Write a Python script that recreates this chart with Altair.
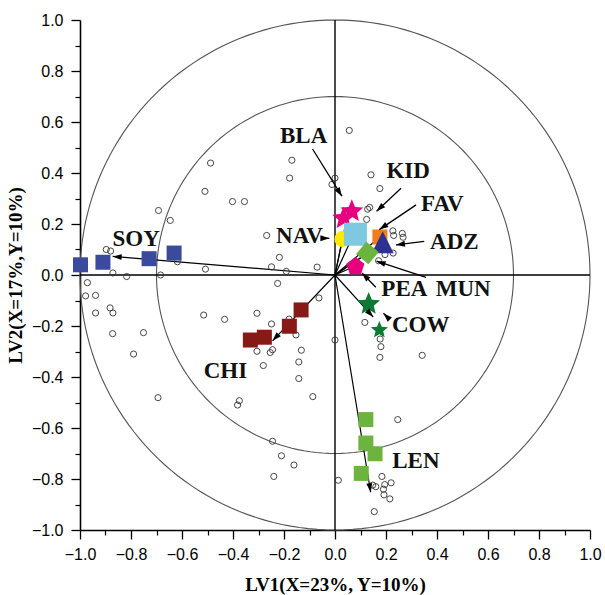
import math
import altair as alt
import pandas as pd

# ---------------- data ----------------
# X-variable loadings (open circles)
var_x = [-0.488, -0.510, -0.402, -0.355, -0.169, -0.178, -0.268, -0.218, -0.249, -0.191,
         -0.070, -0.692, -0.646, -0.897, -0.880, -0.871, -0.817, -0.684, -0.618, -0.508,
         -0.012, 0.000,
         -0.225, -0.971, -0.978, -0.939, -0.882, -0.871, -0.939, -0.872, -0.751, -0.790,
         -0.694, -0.515, -0.433, -0.306, -0.249, -0.180, -0.153, -0.306, -0.245, -0.254,
         -0.132, -0.142, -0.281, -0.142, -0.087, -0.375, -0.382, -0.245, -0.210, -0.161,
         -0.240, -0.063,
         0.000, 0.117, 0.177, 0.180, 0.176, 0.342, 0.246, 0.013, 0.184, 0.220,
         0.195, 0.160, 0.148, 0.190, 0.192, 0.215, 0.154,
         0.056, 0.141, 0.176, 0.136, 0.128, 0.124, 0.227, 0.264, 0.267, 0.230,
         0.228, 0.196, 0.171]
var_y = [0.439, 0.328, 0.288, 0.288, 0.450, 0.380, 0.155, 0.069, 0.032, 0.014,
         0.031, 0.253, 0.214, 0.100, 0.094, 0.008, -0.006, 0.000, 0.052, 0.023,
         0.355, 0.380,
         -0.033, -0.030, -0.082, -0.080, -0.129, -0.149, -0.149, -0.230, -0.226, -0.310,
         -0.481, -0.157, -0.174, -0.150, -0.192, -0.173, -0.235, -0.299, -0.293, -0.304,
         -0.295, -0.341, -0.355, -0.406, -0.477, -0.493, -0.510, -0.652, -0.709, -0.745,
         -0.790, -0.090,
         -0.255, -0.186, -0.251, -0.281, -0.323, -0.315, -0.567, -0.805, -0.790, -0.815,
         -0.822, -0.830, -0.824, -0.840, -0.862, -0.878, -0.928,
         0.567, 0.393, 0.339, 0.265, 0.258, 0.218, 0.173, 0.163, 0.148, 0.155,
         0.086, 0.080, 0.056]

# sample markers per group
soy_x = [-0.998, -0.910, -0.729, -0.631]
soy_y = [0.040, 0.050, 0.064, 0.086]
chi_x = [-0.133, -0.179, -0.277, -0.332]
chi_y = [-0.137, -0.201, -0.244, -0.255]
len_x = [0.121, 0.121, 0.157, 0.103]
len_y = [-0.567, -0.659, -0.701, -0.778]
cow_x = [0.132, 0.174]
cow_y = [-0.114, -0.216]
bla_x = [0.066, 0.034]
bla_y = [0.250, 0.222]
nav_x = [0.029]
nav_y = [0.141]
kid_x = [0.080]
kid_y = [0.160]
fav_x = [0.176]
fav_y = [0.149]
adz_x = [0.187]
adz_y = [0.128]
mun_x = [0.127]
mun_y = [0.086]
pea_x = [0.080]
pea_y = [0.033]

# Y-variable vectors from the origin
vec_names = ["SOY", "CHI", "LEN", "COW", "NAV", "KID", "BLA", "FAV", "ADZ", "MUN", "PEA"]
vec_x = [-0.872, -0.245, 0.140, 0.150, 0.029, 0.075, 0.050, 0.176, 0.187, 0.127, 0.080]
vec_y = [0.073, -0.258, -0.852, -0.165, 0.141, 0.165, 0.240, 0.149, 0.125, 0.086, 0.035]
vec_head = [True, True, True, True, False, False, False, False, False, False, False]

# annotation arrows (label -> marker)
ann_x0 = [-0.088, 0.259, 0.318, 0.350, 0.357, 0.160, -0.050, 0.213]
ann_y0 = [0.494, 0.340, 0.275, 0.132, -0.009, -0.048, 0.144, -0.173]
ann_x1 = [0.027, 0.163, 0.174, 0.239, 0.163, 0.106, -0.022, 0.190]
ann_y1 = [0.309, 0.250, 0.178, 0.118, 0.054, 0.008, 0.144, -0.150]

# labels
lab_text = ["SOY", "CHI", "LEN", "COW", "PEA", "MUN", "ADZ", "FAV", "KID", "BLA", "NAV"]
lab_x = [-0.780, -0.430, 0.317, 0.336, 0.272, 0.503, 0.468, 0.421, 0.287, -0.123, -0.139]
lab_y = [0.143, -0.375, -0.731, -0.197, -0.056, -0.056, 0.131, 0.278, 0.406, 0.546, 0.154]

circle_radii = [1.0, 0.7]
major_ticks = [-1.0, -0.8, -0.6, -0.4, -0.2, 0.0, 0.2, 0.4, 0.6, 0.8, 1.0]
minor_ticks = [-0.9, -0.7, -0.5, -0.3, -0.1, 0.1, 0.3, 0.5, 0.7, 0.9]

# ---------------- styles ----------------
SANS = "Liberation Sans"
SERIF = "Liberation Serif"


def star_path(inner=0.45):
    pts = []
    for i in range(10):
        a = math.radians(-90 + 36 * i)
        r = 1.0 if i % 2 == 0 else inner
        pts.append(f"{r * math.cos(a):.3f},{r * math.sin(a):.3f}")
    return "M" + "L".join(pts) + "Z"


def poly_path(n):
    pts = []
    for i in range(n):
        a = math.radians(-90 + 360 / n * i)
        pts.append(f"{math.cos(a):.3f},{math.sin(a):.3f}")
    return "M" + "L".join(pts) + "Z"


STAR = star_path()
PENT = poly_path(5)
TRI = "M0,-1L1,1L-1,1Z"
HEAD = "M0,0L-0.33,1L0.33,1Z"

XS = alt.Scale(domain=[-1, 1], nice=False, zero=False)
YS = alt.Scale(domain=[-1, 1], nice=False, zero=False)

axis_common = dict(
    grid=False, domainColor="black", tickColor="black", labelColor="black",
    titleColor="black", labelFont=SANS, labelFontSize=16, titleFont=SERIF,
    titleFontSize=19, titleFontWeight="bold", labelFlush=False, labelOverlap=False,
)
x_major = alt.Axis(values=major_ticks, format=".1f", orient="bottom", tickSize=9,
                   tickWidth=1.3, domainWidth=1.6, labelPadding=7,
                   title="LV1(X=23%, Y=10%)", titlePadding=13, **axis_common)
y_major = alt.Axis(values=major_ticks, format=".1f", orient="left", tickSize=9,
                   tickWidth=1.3, domainWidth=1.6, labelPadding=8,
                   title="LV2(X=17%,Y=10%)", titlePadding=6, **axis_common)
x_minor = alt.Axis(values=minor_ticks, orient="bottom", tickSize=5, tickWidth=1.2,
                   labels=False, domain=False, title=None, grid=False, tickColor="black")
y_minor = alt.Axis(values=minor_ticks, orient="left", tickSize=5, tickWidth=1.2,
                   labels=False, domain=False, title=None, grid=False, tickColor="black")

# ---------------- layers ----------------
def circle_layer(r, xa, ya):
    return alt.Chart(alt.sequence(0, 362, 2, as_="deg")).transform_calculate(
        cx=f"{r}*cos(datum.deg*PI/180)", cy=f"{r}*sin(datum.deg*PI/180)"
    ).mark_line(color="#555555", strokeWidth=1.1).encode(
        x=alt.X("cx:Q", scale=XS, axis=xa),
        y=alt.Y("cy:Q", scale=YS, axis=ya),
        order="deg:Q",
    )


outer = circle_layer(circle_radii[0], x_major, y_major)
inner = circle_layer(circle_radii[1], x_minor, y_minor)

zero_df = pd.DataFrame({"x": [-1.0, 0.0], "x2": [1.0, 0.0], "y": [0.0, -1.0], "y2": [0.0, 1.0]})
zeros = alt.Chart(zero_df).mark_rule(color="black", strokeWidth=1.4).encode(
    x=alt.X("x:Q", scale=XS, axis=None), x2="x2:Q",
    y=alt.Y("y:Q", scale=YS, axis=None), y2="y2:Q",
)

vec_df = pd.DataFrame({"name": vec_names, "x0": 0.0, "y0": 0.0, "x1": vec_x, "y1": vec_y,
                       "head": vec_head})
vectors = alt.Chart(vec_df).mark_rule(color="black", strokeWidth=1.2).encode(
    x=alt.X("x0:Q", scale=XS, axis=None), x2="x1:Q",
    y=alt.Y("y0:Q", scale=YS, axis=None), y2="y1:Q",
)

var_df = pd.DataFrame({"x": var_x, "y": var_y})
variables = alt.Chart(var_df).mark_point(
    shape="circle", size=38, filled=False, color="#333333", strokeWidth=0.9, opacity=1
).encode(x=alt.X("x:Q", scale=XS, axis=None), y=alt.Y("y:Q", scale=YS, axis=None))


def marker_layer(xs, ys, shape, color, side, angle=0):
    df = pd.DataFrame({"x": xs, "y": ys})
    return alt.Chart(df).mark_point(
        shape=shape, filled=True, color=color, opacity=1, size=side * side,
        angle=angle, strokeWidth=0
    ).encode(x=alt.X("x:Q", scale=XS, axis=None), y=alt.Y("y:Q", scale=YS, axis=None))


markers = [
    marker_layer(soy_x, soy_y, "square", "#3C4A9E", 15),
    marker_layer(chi_x, chi_y, "square", "#851A16", 15),
    marker_layer(len_x, len_y, "square", "#6DB33F", 15),
    marker_layer(cow_x[:1], cow_y[:1], STAR, "#0B7A35", 24),
    marker_layer(cow_x[1:], cow_y[1:], STAR, "#0B7A35", 18),
    marker_layer(bla_x, bla_y, STAR, "#E6007E", 24),
    marker_layer(nav_x, nav_y, "circle", "#FFE800", 16),
    marker_layer(kid_x, kid_y, "square", "#7EC8E0", 23),
    marker_layer(fav_x, fav_y, "square", "#F07D1A", 15),
    marker_layer(adz_x, adz_y, TRI, "#2E3192", 22),
    marker_layer(mun_x, mun_y, "square", "#6DB33F", 16, angle=40),
    marker_layer(pea_x, pea_y, PENT, "#E6007E", 19),
]

ann_df = pd.DataFrame({"x0": ann_x0, "y0": ann_y0, "x1": ann_x1, "y1": ann_y1})
ann_lines = alt.Chart(ann_df).mark_rule(color="black", strokeWidth=1.3).encode(
    x=alt.X("x0:Q", scale=XS, axis=None), x2="x1:Q",
    y=alt.Y("y0:Q", scale=YS, axis=None), y2="y1:Q",
)

head_df = pd.concat([
    vec_df[vec_df["head"]][["x0", "y0", "x1", "y1"]],
    ann_df,
], ignore_index=True)
heads = alt.Chart(head_df).transform_calculate(
    ang="(atan2(datum.x1 - datum.x0, datum.y1 - datum.y0) * 180 / PI + 360) % 360"
).mark_point(shape=HEAD, filled=True, color="black", size=324, opacity=1, strokeWidth=0).encode(
    x=alt.X("x1:Q", scale=XS, axis=None),
    y=alt.Y("y1:Q", scale=YS, axis=None),
    angle=alt.Angle("ang:Q", scale=None),
)

lab_df = pd.DataFrame({"t": lab_text, "x": lab_x, "y": lab_y})
labels = alt.Chart(lab_df).mark_text(
    font=SERIF, fontSize=23, fontWeight="bold", color="#111111", align="center", baseline="middle"
).encode(x=alt.X("x:Q", scale=XS, axis=None), y=alt.Y("y:Q", scale=YS, axis=None), text="t:N")

chart = alt.layer(
    outer, inner, zeros, vectors, variables, *markers, ann_lines, heads, labels
).resolve_axis(x="independent", y="independent").properties(
    width=510, height=510,
    padding={"left": 80, "top": 20, "right": 15, "bottom": 65},
    autosize=alt.AutoSizeParams(type="none"),
).configure_view(stroke=None)

chart.save("out.html", embed_options={"renderer": "svg", "actions": False})
